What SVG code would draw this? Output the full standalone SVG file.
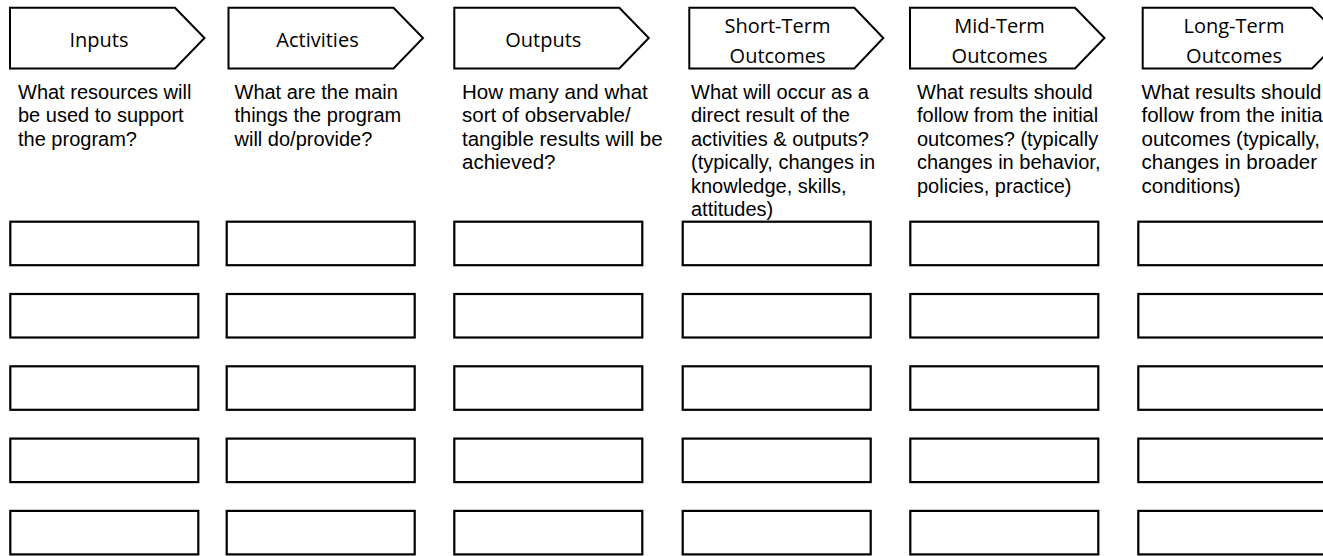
<svg xmlns="http://www.w3.org/2000/svg" width="1323" height="556" viewBox="0 0 1323 556">
<style>
.hdr{fill:#fff;stroke:#000;stroke-width:2;stroke-linejoin:miter}
.box{fill:#fff;stroke:#000;stroke-width:2.2}
.ht{font-family:"Open Sans","Noto Sans",sans-serif;font-size:20px;fill:#000;text-anchor:middle}
.dt{font-family:"Liberation Sans",Arial,sans-serif;font-size:20px;fill:#000}
.wide{font-size:20.5px}
</style>
<rect width="1323" height="556" fill="#fff"/>
<g id="header-inputs">
<path class="hdr" d="M10,7.7 H175 L204.5,38 L175,68.5 H10 Z"/>
<text class="ht" x="99" y="46.5">Inputs</text>
<text class="dt"><tspan x="18" y="99">What resources will</tspan><tspan x="18" y="122.4">be used to support</tspan><tspan x="18" y="145.8">the program?</tspan></text>
</g>
<g id="header-activities">
<path class="hdr" d="M228.5,7.7 H393.5 L423,38 L393.5,68.5 H228.5 Z"/>
<text class="ht" x="317.5" y="46.5">Activities</text>
<text class="dt"><tspan x="234.5" y="99">What are the main</tspan><tspan x="234.5" y="122.4">things the program</tspan><tspan x="234.5" y="145.8">will do/provide?</tspan></text>
</g>
<g id="header-outputs">
<path class="hdr" d="M454.3,7.7 H619.3 L648.8,38 L619.3,68.5 H454.3 Z"/>
<text class="ht" x="543.3" y="46.5">Outputs</text>
<text class="dt wide"><tspan x="462" y="99">How many and what</tspan><tspan x="462" y="122.4">sort of observable/</tspan><tspan x="462" y="145.8">tangible results will be</tspan><tspan x="462" y="169.2">achieved?</tspan></text>
</g>
<g id="header-short-term">
<path class="hdr" d="M689.3,7.7 H854.3 L883.3,38 L854.3,68.5 H689.3 Z"/>
<text class="ht"><tspan x="777.5" y="33">Short-Term</tspan><tspan x="777.5" y="62.5">Outcomes</tspan></text>
<text class="dt"><tspan x="691" y="99">What will occur as a</tspan><tspan x="691" y="122.4">direct result of the</tspan><tspan x="691" y="145.8">activities &amp; outputs?</tspan><tspan x="691" y="169.2">(typically, changes in</tspan><tspan x="691" y="192.6">knowledge, skills,</tspan><tspan x="691" y="216">attitudes)</tspan></text>
</g>
<g id="header-mid-term">
<path class="hdr" d="M910,7.7 H1075 L1104.5,38 L1075,68.5 H910 Z"/>
<text class="ht"><tspan x="999.5" y="33">Mid-Term</tspan><tspan x="999.5" y="62.5">Outcomes</tspan></text>
<text class="dt"><tspan x="917" y="99">What results should</tspan><tspan x="917" y="122.4">follow from the initial</tspan><tspan x="917" y="145.8">outcomes? (typically</tspan><tspan x="917" y="169.2">changes in behavior,</tspan><tspan x="917" y="192.6">policies, practice)</tspan></text>
</g>
<g id="header-long-term">
<path class="hdr" d="M1142.7,7.7 H1312 L1342,38 L1312,68.5 H1142.7 Z"/>
<text class="ht"><tspan x="1234" y="33">Long-Term</tspan><tspan x="1234" y="62.5">Outcomes</tspan></text>
<text class="dt wide"><tspan x="1141.5" y="99">What results should</tspan><tspan x="1141.5" y="122.4">follow from the initial</tspan><tspan x="1141.5" y="145.8">outcomes (typically,</tspan><tspan x="1141.5" y="169.2">changes in broader</tspan><tspan x="1141.5" y="192.6">conditions)</tspan></text>
</g>
<g id="boxes">
<g id="col-inputs">
<rect class="box" x="10.3" y="221.7" width="188" height="43.5"/>
<rect class="box" x="10.3" y="294" width="188" height="43.5"/>
<rect class="box" x="10.3" y="366.3" width="188" height="43.5"/>
<rect class="box" x="10.3" y="438.6" width="188" height="43.5"/>
<rect class="box" x="10.3" y="510.9" width="188" height="43.5"/>
</g>
<g id="col-activities">
<rect class="box" x="226.7" y="221.7" width="188" height="43.5"/>
<rect class="box" x="226.7" y="294" width="188" height="43.5"/>
<rect class="box" x="226.7" y="366.3" width="188" height="43.5"/>
<rect class="box" x="226.7" y="438.6" width="188" height="43.5"/>
<rect class="box" x="226.7" y="510.9" width="188" height="43.5"/>
</g>
<g id="col-outputs">
<rect class="box" x="454.3" y="221.7" width="188" height="43.5"/>
<rect class="box" x="454.3" y="294" width="188" height="43.5"/>
<rect class="box" x="454.3" y="366.3" width="188" height="43.5"/>
<rect class="box" x="454.3" y="438.6" width="188" height="43.5"/>
<rect class="box" x="454.3" y="510.9" width="188" height="43.5"/>
</g>
<g id="col-short-term">
<rect class="box" x="682.7" y="221.7" width="188" height="43.5"/>
<rect class="box" x="682.7" y="294" width="188" height="43.5"/>
<rect class="box" x="682.7" y="366.3" width="188" height="43.5"/>
<rect class="box" x="682.7" y="438.6" width="188" height="43.5"/>
<rect class="box" x="682.7" y="510.9" width="188" height="43.5"/>
</g>
<g id="col-mid-term">
<rect class="box" x="910.3" y="221.7" width="188" height="43.5"/>
<rect class="box" x="910.3" y="294" width="188" height="43.5"/>
<rect class="box" x="910.3" y="366.3" width="188" height="43.5"/>
<rect class="box" x="910.3" y="438.6" width="188" height="43.5"/>
<rect class="box" x="910.3" y="510.9" width="188" height="43.5"/>
</g>
<g id="col-long-term">
<rect class="box" x="1138.3" y="221.7" width="188" height="43.5"/>
<rect class="box" x="1138.3" y="294" width="188" height="43.5"/>
<rect class="box" x="1138.3" y="366.3" width="188" height="43.5"/>
<rect class="box" x="1138.3" y="438.6" width="188" height="43.5"/>
<rect class="box" x="1138.3" y="510.9" width="188" height="43.5"/>
</g>
</g>
</svg>
